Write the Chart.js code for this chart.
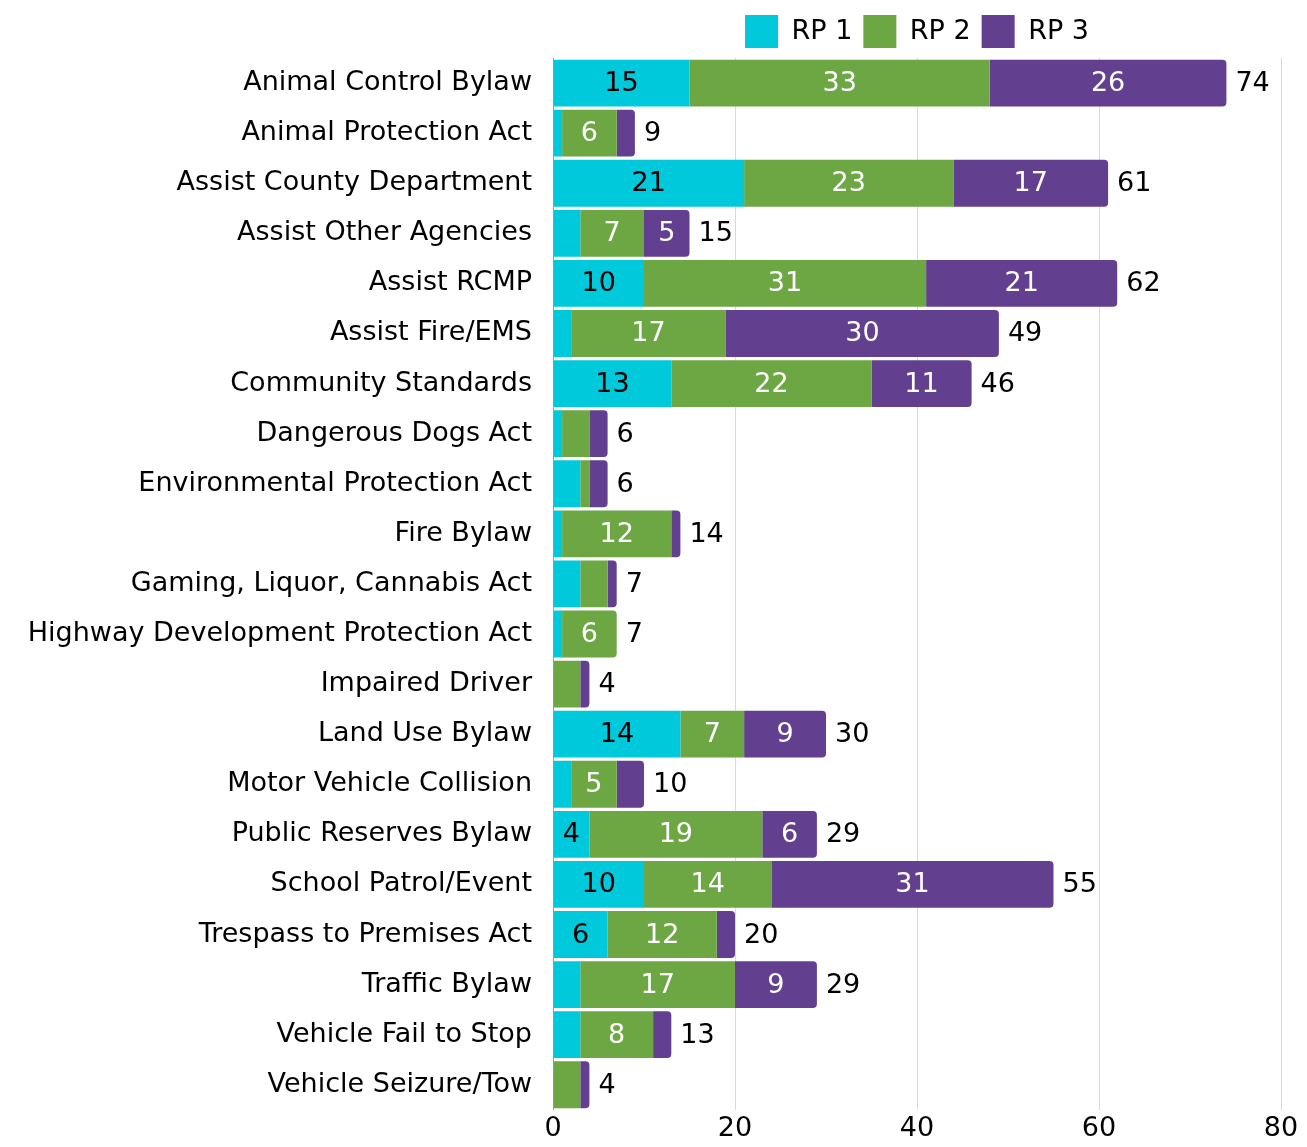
<!DOCTYPE html>
<html>
<head>
<meta charset="utf-8">
<script src="https://cdn.jsdelivr.net/npm/chart.js@4.4.1/dist/chart.umd.min.js"></script>
<style>
  html, body { margin: 0; padding: 0; background: #fff; overflow: hidden; }
  #wrap { width: 1307px; height: 1147px; position: relative; }
</style>
</head>
<body>
<div id="wrap"><canvas id="c" width="1307" height="1147"></canvas></div>
<script>
const categories = [
  "Animal Control Bylaw", "Animal Protection Act", "Assist County Department",
  "Assist Other Agencies", "Assist RCMP", "Assist Fire/EMS", "Community Standards",
  "Dangerous Dogs Act", "Environmental Protection Act", "Fire Bylaw",
  "Gaming, Liquor, Cannabis Act", "Highway Development Protection Act",
  "Impaired Driver", "Land Use Bylaw", "Motor Vehicle Collision",
  "Public Reserves Bylaw", "School Patrol/Event", "Trespass to Premises Act",
  "Traffic Bylaw", "Vehicle Fail to Stop", "Vehicle Seizure/Tow"
];
const seriesNames = ["RP 1", "RP 2", "RP 3"];
const rp1 = [15, 1, 21, 3, 10, 2, 13, 1, 3, 1, 3, 1, 0, 14, 2, 4, 10, 6, 3, 3, 0];
const rp2 = [33, 6, 23, 7, 31, 17, 22, 3, 1, 12, 3, 6, 3, 7, 5, 19, 14, 12, 17, 8, 3];
const rp3 = [26, 2, 17, 5, 21, 30, 11, 2, 2, 1, 1, 0, 1, 9, 3, 6, 31, 2, 9, 2, 1];
const xTicks = [0, 20, 40, 60, 80];

const colors = ["#00C9DC", "#6CA744", "#633F8F"];
const labelColors = ["#000000", "#ffffff", "#ffffff"];
const FONT = "'DejaVu Sans', sans-serif";
const FSIZE = 27;

const segmentLabels = {
  id: 'segmentLabels',
  afterDatasetsDraw(chart) {
    const ctx = chart.ctx;
    ctx.save();
    ctx.font = FSIZE + "px " + FONT;
    ctx.textBaseline = 'middle';
    chart.data.datasets.forEach((ds, di) => {
      const meta = chart.getDatasetMeta(di);
      meta.data.forEach((bar, i) => {
        const v = ds.data[i];
        if (v >= 4) {
          ctx.fillStyle = labelColors[di];
          ctx.textAlign = 'center';
          const cx = (bar.x + bar.base) / 2;
          ctx.fillText(String(v), cx, bar.y + 1);
        }
      });
    });
    const xs = chart.scales.x;
    ctx.fillStyle = '#000';
    ctx.textAlign = 'left';
    const lastMeta = chart.getDatasetMeta(chart.data.datasets.length - 1);
    categories.forEach((c, i) => {
      const total = rp1[i] + rp2[i] + rp3[i];
      const x = xs.getPixelForValue(total) + 9;
      const y = lastMeta.data[i].y + 1;
      ctx.fillText(String(total), x, y);
    });
    ctx.restore();
  }
};

new Chart(document.getElementById('c'), {
  type: 'bar',
  data: {
    labels: categories,
    datasets: [rp1, rp2, rp3].map((d, k) => ({
      label: seriesNames[k],
      data: d,
      backgroundColor: colors[k],
      borderWidth: 0,
      borderRadius: 4,
      barPercentage: 0.935,
      categoryPercentage: 1.0
    }))
  },
  options: {
    indexAxis: 'y',
    responsive: false,
    animation: false,
    devicePixelRatio: 1,
    layout: { padding: { left: 12, right: 26, top: 4, bottom: 0 } },
    plugins: {
      legend: {
        position: 'top',
        fullSize: false,
        labels: {
          boxWidth: 33,
          boxHeight: 33,
          padding: 11,
          color: '#000',
          font: { family: FONT, size: FSIZE }
        }
      },
      tooltip: { enabled: false }
    },
    scales: {
      x: {
        stacked: true,
        min: 0,
        max: 80,
        afterBuildTicks(scale) { scale.ticks = xTicks.map(v => ({ value: v })); },
        afterFit(scale) { scale.height = 28; },
        grid: { color: '#d9d9d9', lineWidth: 1, drawTicks: false },
        border: { display: false },
        ticks: { color: '#000', padding: 3, font: { family: FONT, size: FSIZE } }
      },
      y: {
        stacked: true,
        afterFit(scale) { scale.width = 553 - 12; },
        grid: { display: false, drawTicks: false },
        border: { display: true, color: '#a89c95', width: 1 },
        ticks: { color: '#000', padding: 21, font: { family: FONT, size: FSIZE } }
      }
    }
  },
  plugins: [segmentLabels]
});
</script>
</body>
</html>
